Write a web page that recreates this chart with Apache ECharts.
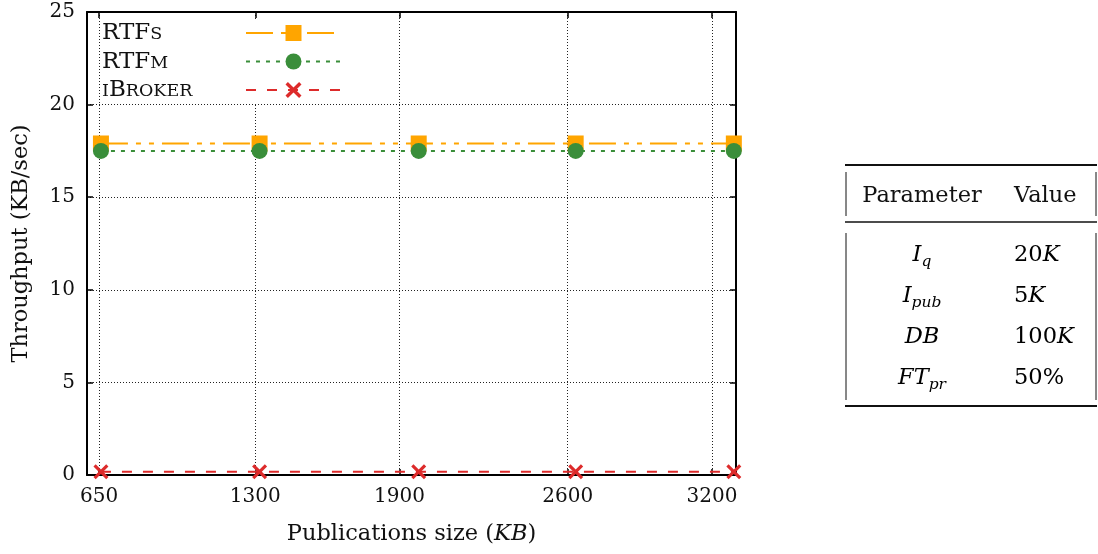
<!DOCTYPE html>
<html><head><meta charset="utf-8">
<script src="https://cdn.jsdelivr.net/npm/echarts@6/dist/echarts.min.js"></script>
<style>html,body{margin:0;padding:0;background:#fff}#c{width:1098px;height:554px}</style>
</head><body><div id="c"></div>
<script>
// ---- data ----
const xTicks = [650, 1300, 1900, 2600, 3200];
const xValues = [658, 1318, 1980, 2633, 3291];
const rtfsValues = [17.9, 17.9, 17.9, 17.9, 17.9];
const rtfmValues = [17.5, 17.5, 17.5, 17.5, 17.5];
const ibrokerValues = [0.18, 0.18, 0.18, 0.18, 0.18];
const seriesNames = ['RTFs', 'RTFm', 'iBroker'];
const tableHeader = ['Parameter', 'Value'];
const tableParams = [['I', 'q'], ['I', 'pub'], ['DB', ''], ['FT', 'pr']];
const tableValues = [['20', 'K'], ['5', 'K'], ['100', 'K'], ['50%', '']];

// ---- styles ----
const F = 'DejaVu Serif';
const TXT = '#111';
const colors = {RTFs: '#FFA500', RTFm: '#3A8E3A', iBroker: '#DD2B2B'};
const legendRich = {RTFs: '{n|RTF}{sc|S}', RTFm: '{n|RTF}{sc|M}', iBroker: '{sc|I}{n|B}{sc|ROKER}'};
const xPath = 'path://M0,1.5L1.5,0L5,3.5L8.5,0L10,1.5L6.5,5L10,8.5L8.5,10L5,6.5L1.5,10L0,8.5L3.5,5Z';

const chart = echarts.init(document.getElementById('c'), null, {renderer: 'canvas'});

function pairs(vals) { return xValues.map((x, i) => [x, vals[i]]); }

const gridBox = {left: 87, right: 362, top: 12, bottom: 79};

// legend white box + table graphics
const g = [];
g.push({type: 'rect', z: 2, shape: {x: 101, y: 19, width: 245, height: 85}, style: {fill: '#fff'}, silent: true});
const tbl = {x0: 845, x1: 1097, top: 165, mid: 222, bottom: 406, c1: 922, c2: 1014, headY: 196, rowY0: 255, rowDY: 41};
const line = (x1, y1, x2, y2, w) => ({type: 'line', shape: {x1, y1, x2, y2}, style: {stroke: '#111', lineWidth: w}, silent: true});
g.push(line(tbl.x0, tbl.top, tbl.x1, tbl.top, 2));
g.push(line(tbl.x0, tbl.mid, tbl.x1, tbl.mid, 1.6));
g.push(line(tbl.x0, tbl.bottom, tbl.x1, tbl.bottom, 2));
[tbl.x0 + 1, tbl.x1 - 1].forEach(x => {
  g.push(line(x, tbl.top + 7, x, tbl.mid - 6, 1));
  g.push(line(x, tbl.mid + 11, x, tbl.bottom - 6, 1));
});
const TF = 22.5;
const tRich = {
  r: {fontFamily: F, fontSize: TF, color: TXT},
  it: {fontFamily: F, fontSize: TF, fontStyle: 'italic', color: TXT},
  sub: {fontFamily: F, fontSize: 15.5, fontStyle: 'italic', color: TXT, padding: [13, 0, 0, 0]}
};
g.push({type: 'text', x: tbl.c1, y: tbl.headY, style: {text: tableHeader[0], fontFamily: F, fontSize: TF, fill: TXT, align: 'center', verticalAlign: 'middle'}});
g.push({type: 'text', x: tbl.c2, y: tbl.headY, style: {text: tableHeader[1], fontFamily: F, fontSize: TF, fill: TXT, align: 'left', verticalAlign: 'middle'}});
tableParams.forEach((p, i) => {
  const y = tbl.rowY0 + i * tbl.rowDY;
  g.push({type: 'text', x: tbl.c1, y, style: {text: '{it|' + p[0] + '}' + (p[1] ? '{sub|' + p[1] + '}' : ''), rich: tRich, align: 'center', verticalAlign: 'middle'}});
  const v = tableValues[i];
  g.push({type: 'text', x: tbl.c2, y, style: {text: '{r|' + v[0] + '}' + (v[1] ? '{it|' + v[1] + '}' : ''), rich: tRich, align: 'left', verticalAlign: 'middle'}});
});

const axisFont = {fontFamily: F, fontSize: 20, color: TXT};
const nameFont = {fontFamily: F, fontSize: 22.5, color: TXT};
const legendCommon = {data: seriesNames, orient: 'vertical', top: 23, itemHeight: 20, itemGap: 8.5, padding: 0, selectedMode: false};

chart.setOption({
  animation: false,
  backgroundColor: '#fff',
  grid: Object.assign({show: false, containLabel: false}, gridBox),
  legend: [
    Object.assign({}, legendCommon, {
      left: 245, itemWidth: 95, formatter: () => ' ',
      textStyle: {fontSize: 2, lineHeight: 20, height: 20}
    }),
    Object.assign({}, legendCommon, {
      left: 97, top: 22, itemWidth: 0, itemGap: 5.5, icon: 'none', align: 'left',
      formatter: n => legendRich[n],
      textStyle: {fontFamily: F, fontSize: 23, color: TXT, lineHeight: 20, height: 20,
        rich: {n: {fontFamily: F, fontSize: 23, color: TXT, lineHeight: 20},
               sc: {fontFamily: F, fontSize: 17.5, color: TXT, lineHeight: 20, padding: [2, 0, 0, 0]}}}
    })
  ],
  xAxis: [{
    type: 'value', position: 'bottom', min: 600, max: 3300,
    axisLine: {show: true, onZero: false, lineStyle: {color: '#000', width: 2}},
    axisTick: {show: true, inside: true, length: 6, customValues: xTicks, lineStyle: {color: '#000', width: 1.5}},
    axisLabel: {customValues: xTicks, margin: 12, formatter: v => String(v), ...axisFont},
    splitLine: {show: true, lineStyle: {type: [1, 2], color: '#222', width: 1}},
    name: 'Publications size ({it|KB})', nameLocation: 'middle', nameGap: 48,
    nameTextStyle: {...nameFont, rich: {it: {fontFamily: F, fontSize: 22.5, fontStyle: 'italic', color: TXT}}}
  }, {
    type: 'value', position: 'top', min: 600, max: 3300,
    axisLine: {show: true, onZero: false, lineStyle: {color: '#000', width: 2}},
    axisTick: {show: true, inside: true, length: 6, customValues: xTicks, lineStyle: {color: '#000', width: 1.5}},
    axisLabel: {show: false}, splitLine: {show: false}
  }],
  yAxis: [{
    type: 'value', position: 'left', min: 0, max: 25, interval: 5,
    axisLine: {show: true, onZero: false, lineStyle: {color: '#000', width: 2}},
    axisTick: {show: true, inside: true, length: 6, lineStyle: {color: '#000', width: 1.5}},
    axisLabel: {margin: 12, ...axisFont},
    splitLine: {show: true, lineStyle: {type: [1, 2], color: '#222', width: 1}},
    name: 'Throughput (KB/sec)', nameLocation: 'middle', nameGap: 54, nameRotate: 90,
    nameTextStyle: nameFont
  }, {
    type: 'value', position: 'right', min: 0, max: 25, interval: 5,
    axisLine: {show: true, onZero: false, lineStyle: {color: '#000', width: 2}},
    axisTick: {show: true, inside: true, length: 6, lineStyle: {color: '#000', width: 1.5}},
    axisLabel: {show: false}, splitLine: {show: false}
  }],
  series: [
    {name: 'RTFs', type: 'line', data: pairs(rtfsValues), symbol: 'rect', symbolSize: 16, clip: false, z: 4,
     itemStyle: {color: colors.RTFs}, lineStyle: {color: colors.RTFs, width: 2, type: [27, 8, 5, 8, 5, 8]}},
    {name: 'RTFm', type: 'line', data: pairs(rtfmValues), symbol: 'circle', symbolSize: 16, clip: false, z: 5,
     itemStyle: {color: colors.RTFm}, lineStyle: {color: colors.RTFm, width: 2, type: [4, 6]}},
    {name: 'iBroker', type: 'line', data: pairs(ibrokerValues), symbol: xPath, symbolSize: 15, clip: false, z: 6,
     itemStyle: {color: colors.iBroker}, lineStyle: {color: colors.iBroker, width: 2, type: [10, 11]}}
  ],
  graphic: g
});
</script></body></html>
